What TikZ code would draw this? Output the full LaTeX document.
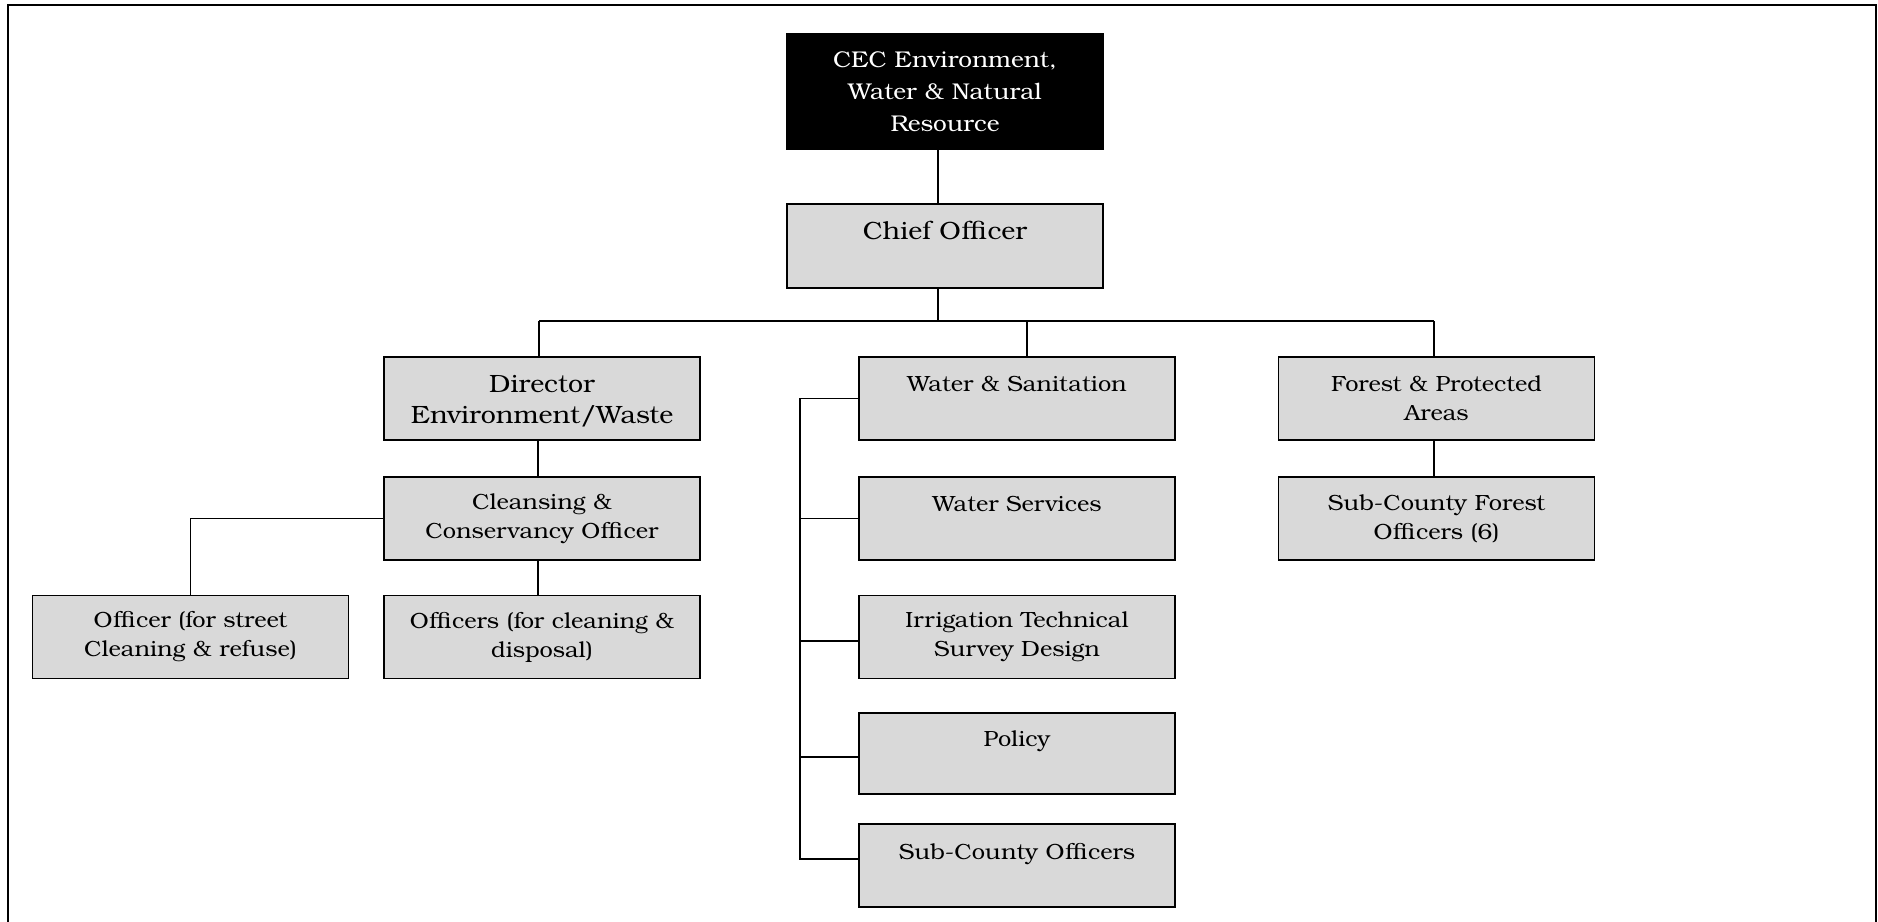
\documentclass[tikz,border=0pt]{standalone}
\usepackage{fontspec}
\setmainfont{TeX Gyre Bonum}[FakeStretch=1.07]
\definecolor{boxgray}{RGB}{217,217,217}
\begin{document}
\begin{tikzpicture}[x=0.5pt,y=-0.5pt,
  unit/.style={draw=black, line width=0.7pt, fill=boxgray,
    minimum width=158pt, minimum height=41.5pt, inner sep=0pt,
    align=center, font=\fontsize{11}{14.5}\selectfont},
  bigunit/.style={unit, font=\fontsize{12.5}{15.5}\selectfont},
  head/.style={unit, fill=black, text=white, minimum height=57.5pt,
    font=\fontsize{11.4}{16}\selectfont},
  link/.style={line width=0.7pt}]
\useasboundingbox (0,0) rectangle (1878,921);

% outer frame (open at the bottom edge of the page)
\draw[line width=1pt] (8,940) -- (8,5) -- (1876,5) -- (1876,940);

% top of the hierarchy
\node[head] (cec) at (945,91.5) {CEC Environment,\\Water \& Natural\\Resource};
\node[bigunit, minimum height=42pt] (chief) at (945,246) {Chief Officer\\~};

% three directorates
\node[bigunit] (dir) at (542,398.5) {\rule{0pt}{11pt}Director\\Environment/Waste};
\node[unit] (ws) at (1017,398.5) {Water \& Sanitation\\~};
\node[unit] (forest) at (1436.5,398.5) {Forest \& Protected\\Areas};

% environment / waste branch
\node[unit] (clean) at (542,518.5) {Cleansing \&\\Conservancy Officer};
\node[unit] (disp) at (542,637) {Officers (for cleaning \&\\disposal)};
\node[unit] (street) at (190.5,637) {Officer (for street\\Cleaning \& refuse)};

% water branch
\node[unit] (wserv) at (1017,518.5) {Water Services\\~};
\node[unit] (irr) at (1017,637) {Irrigation Technical\\Survey Design};
\node[unit, minimum height=40.5pt] (pol) at (1017,753.5) {Policy\\~};
\node[unit] (subc) at (1017,865.5) {Sub-County Officers\\~};

% forest branch
\node[unit] (subf) at (1436.5,518.5) {Sub-County Forest\\Officers (6)};

% junction points of the connectors
\coordinate (jc) at (938,321);
\coordinate (jl) at (539,321);
\coordinate (jw) at (1027,321);
\coordinate (jf) at (1434,321);
\coordinate (sp) at (800,0);

% head to chief officer to the bus
\draw[link] (cec.south -| jc) -- (chief.north -| jc);
\draw[link] (chief.south -| jc) -- (jc);
\draw[link] (jl) -- (jf);
\draw[link] (jl) -- (dir.north -| jl);
\draw[link] (jw) -- (ws.north -| jw);
\draw[link] (jf) -- (forest.north -| jf);

% environment / waste connectors
\draw[link] ([xshift=-2pt]dir.south) -- ([xshift=-2pt]clean.north);
\draw[link] ([xshift=-2pt]clean.south) -- ([xshift=-2pt]disp.north);
\draw[link] (clean.west) -| (street.north);

% water spine and branches
\draw[link] (ws.west) -- (ws.west -| sp) -- ([yshift=3.25pt]subc.west -| sp) -- ([yshift=3.25pt]subc.west);
\draw[link] (wserv.west) -- (wserv.west -| sp);
\draw[link] ([yshift=-2pt]irr.west) -- ([yshift=-2pt]irr.west -| sp);
\draw[link] ([yshift=-1.75pt]pol.west) -- ([yshift=-1.75pt]pol.west -| sp);

% forest connector
\draw[link] (forest.south -| jf) -- (subf.north -| jf);
\end{tikzpicture}
\end{document}
